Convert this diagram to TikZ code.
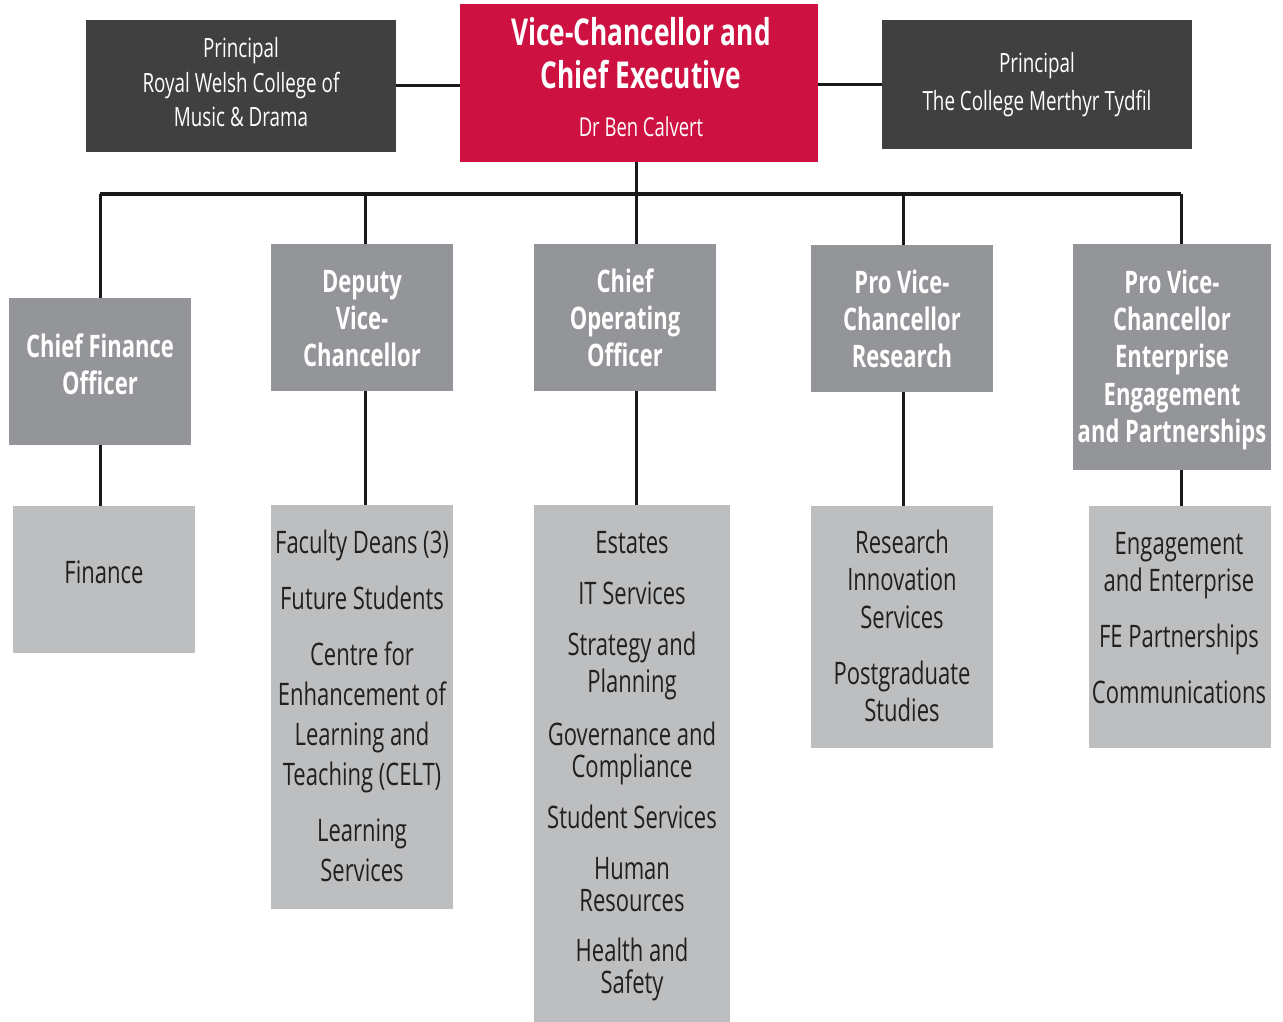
\documentclass[tikz,border=0pt]{standalone}
\usepackage{fontspec}
\setmainfont[FakeStretch=0.71]{Open Sans}
\definecolor{vcred}{RGB}{205,17,65}
\definecolor{darkbox}{RGB}{64,64,65}
\definecolor{midgrey}{RGB}{147,149,152}
\definecolor{lightgrey}{RGB}{188,190,192}
\definecolor{txtdark}{RGB}{35,31,32}
\tikzset{
  box/.style={rectangle, inner sep=0pt, draw=none},
  redbox/.style={box, fill=vcred},
  topbox/.style={box, fill=darkbox},
  headbox/.style={box, fill=midgrey},
  listbox/.style={box, fill=lightgrey},
  conn/.style={line width=3pt, draw=black!90},
  txt/.style={inner sep=0pt, text depth=0pt},
  toptxt/.style={txt, text height=19.6pt, text=white, font=\fontsize{26.5}{30}\selectfont},
  redtxt/.style={txt, text height=27.4pt, text=white, font=\fontsize{37}{44}\selectfont\bfseries},
  redsub/.style={txt, text height=19.2pt, text=white, font=\fontsize{26}{30}\selectfont},
  headtxt/.style={txt, text height=23pt, text=white, font=\fontsize{31}{37}\selectfont\bfseries},
  lt/.style={txt, text height=23pt, text=txtdark, font=\fontsize{31}{37}\selectfont},
}
\begin{document}
\begin{tikzpicture}[x=1pt,y=-1pt]
\useasboundingbox (0,0) rectangle (1283,1022);
% top row
\node[topbox, minimum width=310pt, minimum height=132pt] (rw) at (241,86) {};
\node[redbox, minimum width=358pt, minimum height=158pt] (vc) at (639,83) {};
\node[topbox, minimum width=310pt, minimum height=129pt] (mt) at (1037,84.5) {};
\node[toptxt] (rw1) at (241,48) {Principal};
\node[toptxt] (rw2) at (241,83) {Royal Welsh College of};
\node[toptxt] (rw3) at (241,117) {Music \& Drama};
\node[redtxt] (vc1) at (641,32) {Vice-Chancellor and};
\node[redtxt] (vc2) at (641,75) {Chief Executive};
\node[redsub] (vc3) at (641,127) {Dr Ben Calvert};
\node[toptxt] (mt1) at (1037,63) {Principal};
\node[toptxt] (mt2) at (1037,101) {The College Merthyr Tydfil};
\draw[conn] (rw.east) -- (rw.east -| vc.west);
\draw[conn] (mt.west) -- (mt.west -| vc.east);
% level 2
\node[headbox, minimum width=182pt, minimum height=147pt] (cfo) at (100,371.5) {};
\node[headbox, minimum width=182pt, minimum height=147pt] (dvc) at (362,317.5) {};
\node[headbox, minimum width=182pt, minimum height=147pt] (coo) at (625,317.5) {};
\node[headbox, minimum width=182pt, minimum height=147pt] (pvr) at (902,318.5) {};
\node[headbox, minimum width=198pt, minimum height=226pt] (pve) at (1172,357) {};
% level 3
\node[listbox, minimum width=182pt, minimum height=147pt] (fin) at (104,579.5) {};
\node[listbox, minimum width=182pt, minimum height=404pt] (dvl) at (362,707) {};
\node[listbox, minimum width=196pt, minimum height=517pt] (cool) at (632,763.5) {};
\node[listbox, minimum width=182pt, minimum height=242pt] (rsl) at (902,627) {};
\node[listbox, minimum width=182pt, minimum height=242pt] (enl) at (1180,627) {};
% connectors
\coordinate (bus) at (636,194);
\coordinate (d1) at (100,194);
\coordinate (d2) at (365,194);
\coordinate (d3) at (636,194);
\coordinate (d4) at (903,194);
\coordinate (d5) at (1181,194);
\draw[conn] (vc.south -| bus) -- (bus);
\draw[conn] (d1) -- (d5);
\draw[conn] (d1) -- (d1 |- cfo.north);
\draw[conn] (d2) -- (d2 |- dvc.north);
\draw[conn] (d3) -- (d3 |- coo.north);
\draw[conn] (d4) -- (d4 |- pvr.north);
\draw[conn] (d5) -- (d5 |- pve.north);
\draw[conn] (d1 |- cfo.south) -- (d1 |- fin.north);
\draw[conn] (d2 |- dvc.south) -- (d2 |- dvl.north);
\draw[conn] (d3 |- coo.south) -- (d3 |- cool.north);
\draw[conn] (d4 |- pvr.south) -- (d4 |- rsl.north);
\draw[conn] (d5 |- pve.south) -- (d5 |- enl.north);
% level 2 text
\node[headtxt] (cfo1) at (100,346) {Chief Finance};
\node[headtxt] (cfo2) at (100,383) {Officer};
\node[headtxt] (dvc1) at (362,281) {Deputy};
\node[headtxt] (dvc2) at (362,318) {Vice-};
\node[headtxt] (dvc3) at (362,355) {Chancellor};
\node[headtxt] (coo1) at (625,281) {Chief};
\node[headtxt] (coo2) at (625,318) {Operating};
\node[headtxt] (coo3) at (625,355) {Officer};
\node[headtxt] (pvr1) at (902,282) {Pro Vice-};
\node[headtxt] (pvr2) at (902,319) {Chancellor};
\node[headtxt] (pvr3) at (902,356) {Research};
\node[headtxt] (pve1) at (1172,282) {Pro Vice-};
\node[headtxt] (pve2) at (1172,319) {Chancellor};
\node[headtxt] (pve3) at (1172,356) {Enterprise};
\node[headtxt] (pve4) at (1172,394) {Engagement};
\node[headtxt] (pve5) at (1172,431) {and Partnerships};
% level 3 text
\node[lt] (fin1) at (104,572) {Finance};
\node[lt] (dv1) at (362,542) {Faculty Deans (3)};
\node[lt] (dv2) at (362,598) {Future Students};
\node[lt] (dv3) at (362,654) {Centre for};
\node[lt] (dv4) at (362,694) {Enhancement of};
\node[lt] (dv5) at (362,734) {Learning and};
\node[lt] (dv6) at (362,774) {Teaching (CELT)};
\node[lt] (dv7) at (362,830) {Learning};
\node[lt] (dv8) at (362,870) {Services};
\node[lt] (co1) at (632,542) {Estates};
\node[lt] (co2) at (632,593) {IT Services};
\node[lt] (co3) at (632,644) {Strategy and};
\node[lt] (co4) at (632,681) {Planning};
\node[lt] (co5) at (632,734) {Governance and};
\node[lt] (co6) at (632,766) {Compliance};
\node[lt] (co7) at (632,817) {Student Services};
\node[lt] (co8) at (632,868) {Human};
\node[lt] (co9) at (632,900) {Resources};
\node[lt] (co10) at (632,950) {Health and};
\node[lt] (co11) at (632,982) {Safety};
\node[lt] (rs1) at (902,542) {Research};
\node[lt] (rs2) at (902,579) {Innovation};
\node[lt] (rs3) at (902,617) {Services};
\node[lt] (rs4) at (902,673) {Postgraduate};
\node[lt] (rs5) at (902,710) {Studies};
\node[lt] (en1) at (1179,543) {Engagement};
\node[lt] (en2) at (1179,580) {and Enterprise};
\node[lt] (en3) at (1179,636) {FE Partnerships};
\node[lt] (en4) at (1179,692) {Communications};
\end{tikzpicture}
\end{document}
